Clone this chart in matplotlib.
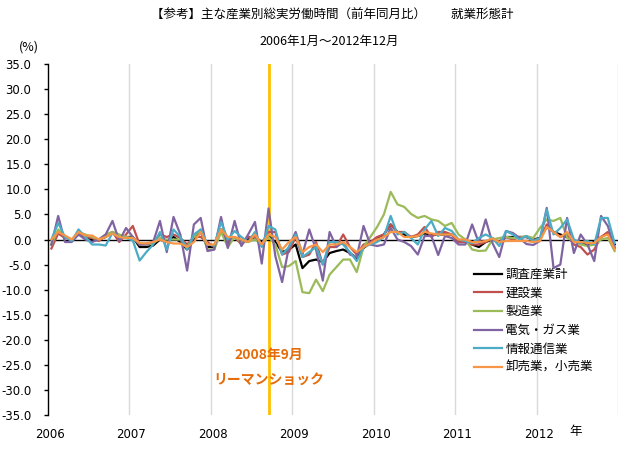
import numpy as np
import matplotlib
matplotlib.use('Agg')
import matplotlib.pyplot as plt

plt.rcParams['font.family'] = ['Noto Sans CJK JP', 'DejaVu Sans']

years = ['2006', '2007', '2008', '2009', '2010', '2011', '2012']

# 前年同月比 (%), 2006年1月～2012年12月
total = [-1, 1.5, 0.5, 0, 1, 0.5, 0, 0, 0.5, 1.5, 0.5, 0.5,
         0.5, -1.5, -1.5, -1.2, 0, -0.5, 0.5, -0.5, -2, 0, 1.5, -1.5,
         -1.5, 2, -1, 0.5, -0.5, 0, 0.5, -0.5, 0.7, -0.5, -2.5, -2,
         -1, -5.7, -4.3, -4, -4.5, -2.7, -2.3, -2, -2.7, -3.7, -1.7, -0.7,
         0.3, 1, 3, 1.5, 1, 0.5, 0.7, 1.2, 1, 1, 1, 1,
         -0.5, -0.5, -1, -1.5, -0.5, 0, -0.5, 0.5, 0.5, 0.5, 0.5, 0,
         0.3, 2.5, 1.5, 1, 0.5, -0.5, -0.5, -1, -0.5, 0.5, 1.2, -1]
construction = [-1.8, 1.2, 0.3, 0, 1.2, 0.5, 0.3, -0.3, 0.8, 1.5, -0.5, 1,
                2.7, -1, -0.8, -0.5, 1, 0.5, 1, 0.3, -1, 0.5, 0.5, -0.5,
                -1.5, 1.8, -0.5, 0.5, -1, 0.5, 0.5, -1, 1.5, 1.5, -3, -2.5,
                0.5, -3.5, -3, -0.5, -5, -1.5, -1.5, 1, -1.5, -3, -1, -0.5,
                0.5, 1, 3, 1.5, 1.5, 0.5, 1, 2.5, 0.5, 1.5, 1.5, 1,
                -0.5, -0.5, -1, -1, -0.5, 0.3, -0.5, 0.5, 0, 0.5, 0.5, 0,
                0, 3, 1.5, 0.5, 1, -1, -1.5, -3, -2, 0.5, 1.5, -1.5]
manufacturing = [-1, 2, 0.5, 0, 1.5, 1, 0.5, 0, 1, 1.5, 1, 0.5,
                 0.3, -1, -1, -0.8, 0.3, 0, 0, 0, -1.5, 0.5, 2, -2,
                 -2, 1.5, -1.5, 0.5, -0.5, -0.5, 0, -1, 0.5, -1, -5.5, -5.3,
                 -4.3, -10.5, -10.7, -8, -10.3, -7, -5.5, -4, -4, -6.5, -1.5, 0.5,
                 2.5, 5, 9.5, 7, 6.5, 5.1, 4.3, 4.7, 4, 3.7, 2.7, 3.3,
                 1, 0, -2, -2.3, -2.2, 0, 0.3, 0.5, 0.3, 0.3, 0.7, 0.3,
                 2.3, 4, 3.7, 4.3, 0.3, -0.3, -1, -1.3, -1, 0, 0.3, -2.3]
utilities = [-1, 4.7, -0.5, -0.5, 1, 0, -0.5, 0, 1, 3.7, -0.3, 2.3,
             0.5, -1, -1, -0.5, 3.7, -2.5, 4.5, 1, -6.2, 3, 4.3, -2.3,
             -2, 4.5, -1.7, 3.7, -1.3, 1, 3.5, -4.8, 6.2, -3.3, -8.5, -1.5,
             1.5, -3, 2, -2, -8.2, 1.5, -1.5, -0.5, -3, -3.5, 2.7, -1,
             -1.3, -1, 2.3, 0, -0.5, -1.3, -3, 0.7, 0.7, -3.1, 0.7, 0.3,
             -1, -1, 3, -0.7, 4, -0.7, -3.5, 1.7, 1.3, 0.3, -0.9, -1.1,
             -0.3, 6.3, -5.7, -5, 4.3, -2.7, 1, -1, -4.3, 4.7, 2.7, -1.7]
info_comm = [0, 3.3, 0.5, -0.3, 2, 0.5, -1, -1, -1.2, 1.3, 0.5, 0.3,
             -0.2, -4.2, -2.5, -1, 1.5, -2, 2, 0.5, -2, 1, 2, -1,
             -1.2, 3.5, 0, 1.7, 0.5, -0.5, 1.5, -1.5, 2.7, 2, -3, -1.5,
             1, -3.5, -2.5, -1.5, -5, -0.5, -0.5, -1, -2.5, -4.3, -1.5, -1,
             -0.5, 0.5, 4.7, 1, 1.5, 0.3, -1, 2, 3.7, 0.7, 2.3, 1.7,
             0, -0.3, -0.7, 0.3, 1, 0.3, -1.3, 1.7, 1, 0, 0.7, -0.3,
             0.3, 6, 1, 2.3, 4, 0, -0.7, -0.3, -1, 4.3, 4.3, -0.7]
trade = [0, 1.5, 0.8, 0, 1.5, 0.8, 0.8, 0, 0.5, 1.2, 0.5, 0.3,
         0.3, -0.7, -0.8, -0.5, 0, -0.5, -0.8, -0.8, -1.5, -0.5, 1.5, -1,
         -1, 2, 0.5, 0.5, 0, -0.5, 1, -1, 1, 0.5, -2, -0.5,
         0.5, -2.5, -1.5, -1, -2.5, -1, -1, -0.5, -1.5, -2.5, -1.5, -0.8,
         0, 0.5, 1.5, 1.5, 0.5, 0.5, 0.7, 1.5, 1.2, 1, 1, 1,
         0, 0, -0.5, -0.5, -0.3, 0.2, -0.5, -0.3, -0.3, -0.3, -0.3, -0.5,
         -0.3, 2.5, 1.5, 0.5, 1.5, -0.5, -0.5, -0.7, -0.7, 0.5, 1, -2]

series = [
    ('調査産業計', total, '#000000'),
    ('建設業', construction, '#C0504D'),
    ('製造業', manufacturing, '#9BBB59'),
    ('電気・ガス業', utilities, '#8064A2'),
    ('情報通信業', info_comm, '#4BACC6'),
    ('卸売業，小売業', trade, '#F79646'),
]

x = np.arange(len(total)) + 0.5
shock_month = 32  # 2008年9月

fig = plt.figure(figsize=(6.4, 4.5), dpi=100)
ax = fig.add_axes([48 / 640, 1 - 415 / 450, 570 / 640, 351 / 450])

for k in range(1, len(years) + 1):
    ax.axvline(12 * k, color='#D9D9D9', lw=1, zorder=0)
ax.axvline(shock_month + 0.5, color='#FFC000', lw=2, zorder=1)
ax.axhline(0, color='black', lw=1, zorder=2)

for name, vals, col in series:
    ax.plot(x, vals, color=col, lw=1.6, label=name, zorder=3)

ax.set_xlim(0, 84)
ax.set_ylim(-35, 35)
yt = np.arange(-35, 36, 5)
ax.set_yticks(yt)
ax.set_yticklabels([f'{v:.1f}' for v in yt], fontsize=8.5, family='DejaVu Sans')
ax.set_xticks([12 * i + 0.3 for i in range(len(years))])
ax.set_xticklabels(years, fontsize=8.5, family='DejaVu Sans')
ax.tick_params(axis='x', length=0, pad=9)
ax.tick_params(axis='y', direction='out', length=3, width=1, pad=9)
for s in ['top', 'right', 'bottom']:
    ax.spines[s].set_visible(False)
ax.spines['left'].set_linewidth(1)

fig.text(576 / 640, 1 - 432 / 450, '年', fontsize=9, ha='center', va='center')
fig.text(29 / 640, 1 - 47 / 450, '(%)', fontsize=9, ha='center', va='center')
fig.text(332 / 640, 1 - 15 / 450, '【参考】主な産業別総実労働時間（前年同月比）　　就業形態計',
         fontsize=9, ha='center', va='center')
fig.text(329 / 640, 1 - 41 / 450, '2006年1月～2012年12月', fontsize=9,
         ha='center', va='center')

ax.text(shock_month + 0.5, -23.0, '2008年9月', color='#E46C0A', fontsize=10,
        fontweight='bold', ha='center', va='center')
ax.text(shock_month + 0.5, -28.2, 'リーマンショック', color='#E46C0A', fontsize=10,
        fontweight='bold', ha='center', va='center')

ax.legend(loc='upper left', bbox_to_anchor=(474 / 640, 1 - 268 / 450),
          bbox_transform=fig.transFigure, frameon=False, fontsize=9,
          handlelength=2.2, handletextpad=0.3, labelspacing=0.45,
          borderpad=0, borderaxespad=0)

fig.savefig('out.png', dpi=100)
